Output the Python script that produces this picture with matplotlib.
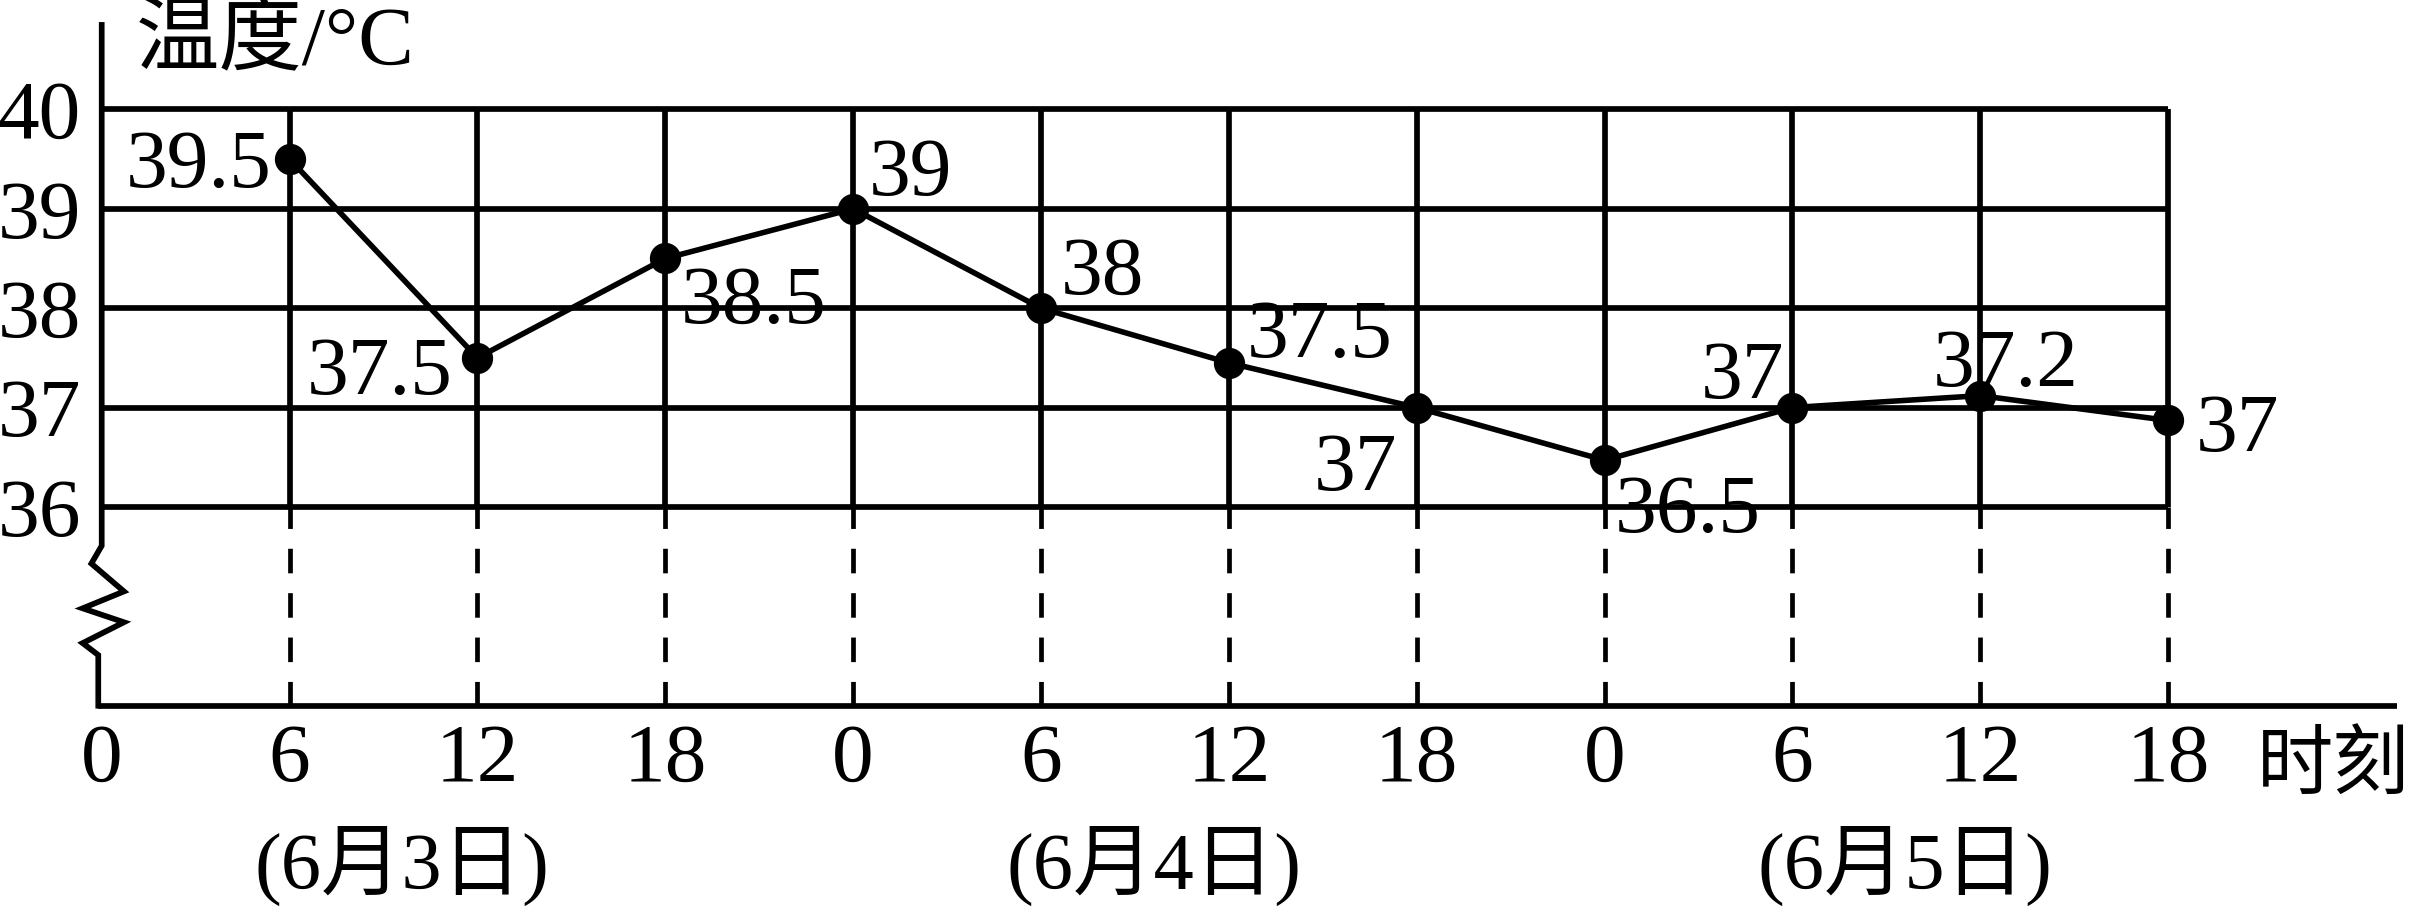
import matplotlib
matplotlib.use("Agg")
import matplotlib.pyplot as plt

plt.rcParams['font.family'] = ['Liberation Serif', 'Noto Sans CJK SC', 'DejaVu Sans']

# ---- data ----
hours = [6, 12, 18, 24, 30, 36, 42, 48, 54, 60, 66]
temps = [39.5, 37.5, 38.5, 39.0, 38.0, 37.45, 37.0, 36.47, 37.0, 37.12, 36.87]
point_labels = ["39.5", "37.5", "38.5", "39", "38", "37.5", "37", "36.5", "37", "37.2", "37"]
xtick_pos = [0, 6, 12, 18, 24, 30, 36, 42, 48, 54, 60, 66]
xtick_labels = ["0", "6", "12", "18", "0", "6", "12", "18", "0", "6", "12", "18"]
ytick_pos = [36, 37, 38, 39, 40]
ytick_labels = ["36", "37", "38", "39", "40"]
day_labels = ["(6月3日)", "(6月4日)", "(6月5日)"]
day_centers = [9.6, 33.6, 57.6]
y_title = "温度/°C"
x_title = "时刻"

# label offsets (points) and alignment
label_off = [(-13, 0, 'right'), (-18, -6, 'right'), (11, -26, 'left'), (11, 30, 'left'),
             (14, 30, 'left'), (13, 24, 'left'), (-14, -39, 'right'), (7, -32, 'left'),
             (-6, 27, 'right'), (18, 27, 'center'), (20, -2, 'left')]

FS = 60
LW = 4.1

fig = plt.figure(figsize=(24.16, 9.17), dpi=100)
ax = fig.add_axes([0.0421, 0.2304, 0.8553, 0.6503])
ax.set_xlim(0, 66)
ax.set_ylim(34, 40)
for s in ax.spines.values():
    s.set_visible(False)

# grid
ax.hlines(ytick_pos, 0, 66, colors='black', lw=LW, clip_on=False)
ax.vlines(xtick_pos[1:], 36, 40, colors='black', lw=LW, clip_on=False)
ax.vlines(xtick_pos[1:], 34, 36, colors='black', lw=3.4, linestyles=(0, (5.2, 4.2)), clip_on=False)

# y axis with break
ax.plot([0, 0, -0.33, 0.71, -0.61, 0.71, -0.61, -0.11, -0.11],
        [40.85, 35.61, 35.43, 35.15, 34.98, 34.84, 34.63, 34.51, 34.0],
        color='black', lw=LW, clip_on=False, solid_joinstyle='miter')
# x axis
ax.plot([-0.11, 73.3], [34, 34], color='black', lw=LW, clip_on=False, solid_capstyle='butt')

# data
ax.plot(hours, temps, color='black', lw=4.0, marker='o', markersize=21.5, clip_on=False, zorder=5)
for h, t, lab, (dx, dy, ha) in zip(hours, temps, point_labels, label_off):
    ax.annotate(lab, (h, t), xytext=(dx, dy - 20), textcoords='offset points',
                ha=ha, va='baseline', fontsize=FS, zorder=6)

# ticks
ax.set_xticks(xtick_pos, xtick_labels)
ax.set_yticks(ytick_pos, ytick_labels)
ax.tick_params(axis='both', length=0, labelsize=FS)
ax.tick_params(axis='x', pad=13)
ax.tick_params(axis='y', pad=15)

# titles
ax.text(1.08, 40.66, y_title, ha='left', va='center', fontsize=60, clip_on=False)
ax.text(68.85, 33.37, x_title, ha='left', va='center', fontsize=55, clip_on=False)
for c, lab in zip(day_centers, day_labels):
    ax.text(c, 32.39, lab, ha='center', va='center', fontsize=58, clip_on=False)

fig.savefig("out.png", dpi=100)
